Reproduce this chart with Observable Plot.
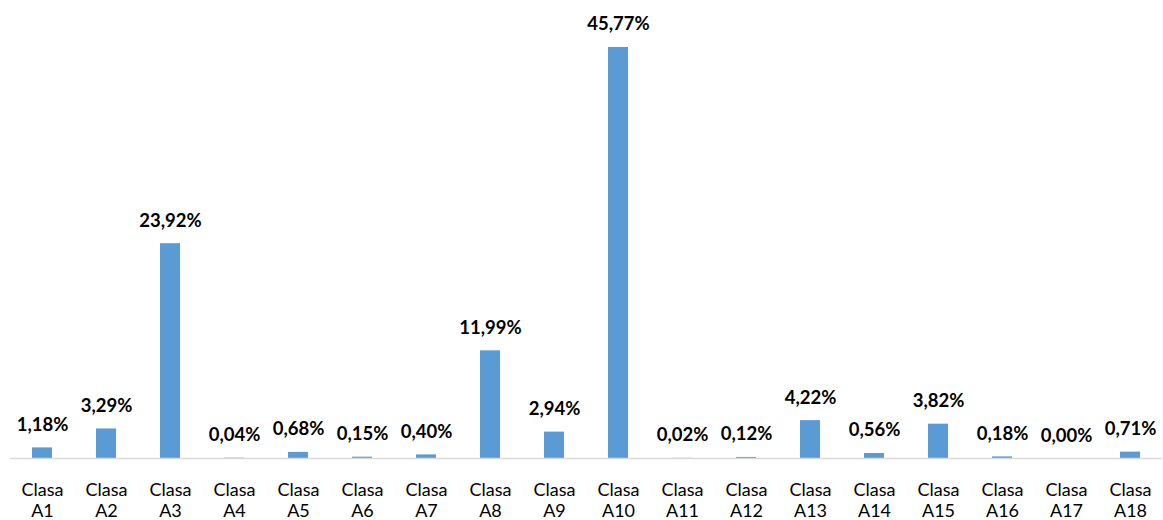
<!DOCTYPE html>
<html>
<head>
<meta charset="utf-8">
<script src="https://cdn.jsdelivr.net/npm/d3@7"></script>
<script src="https://cdn.jsdelivr.net/npm/@observablehq/plot@0.6"></script>
<style>
  html, body { margin: 0; padding: 0; background: #fff; }
  #chart svg { display: block; }
</style>
</head>
<body>
<div id="chart"></div>
<script>
const categories = ["A1","A2","A3","A4","A5","A6","A7","A8","A9","A10","A11","A12","A13","A14","A15","A16","A17","A18"];
const values = [1.18, 3.29, 23.92, 0.04, 0.68, 0.15, 0.40, 11.99, 2.94, 45.77, 0.02, 0.12, 4.22, 0.56, 3.82, 0.18, 0.00, 0.71];
const categoryPrefix = "Clasa";

const data = categories.map((c, i) => ({cat: c, value: values[i]}));
const fmt = v => v.toFixed(2).replace(".", ",") + "%";

const chart = Plot.plot({
  width: 1163,
  height: 520,
  marginTop: 9,
  marginBottom: 62,
  marginLeft: 10,
  marginRight: 1,
  style: {fontFamily: "Lato, 'Open Sans', sans-serif", background: "#fff"},
  x: {domain: categories, paddingInner: 0.6875, paddingOuter: 0.34375, axis: null},
  y: {domain: [0, 50], axis: null},
  marks: [
    Plot.barY(data, {x: "cat", y: "value", fill: "#5B9BD5"}),
    Plot.ruleY([0], {stroke: "#D9D9D9", strokeWidth: 1.5}),
    Plot.text(data, {
      x: "cat", y: "value", text: d => fmt(d.value),
      lineAnchor: "bottom", dy: -17,
      fontSize: 18.5, fontWeight: "bold", fill: "#000"
    }),
    Plot.text(data, {
      x: "cat", y: 0, text: d => categoryPrefix + "\n" + d.cat,
      lineAnchor: "top", dy: 21.7, lineHeight: 1.2,
      fontSize: 18, fill: "#000"
    })
  ]
});
document.getElementById("chart").appendChild(chart);
</script>
</body>
</html>
